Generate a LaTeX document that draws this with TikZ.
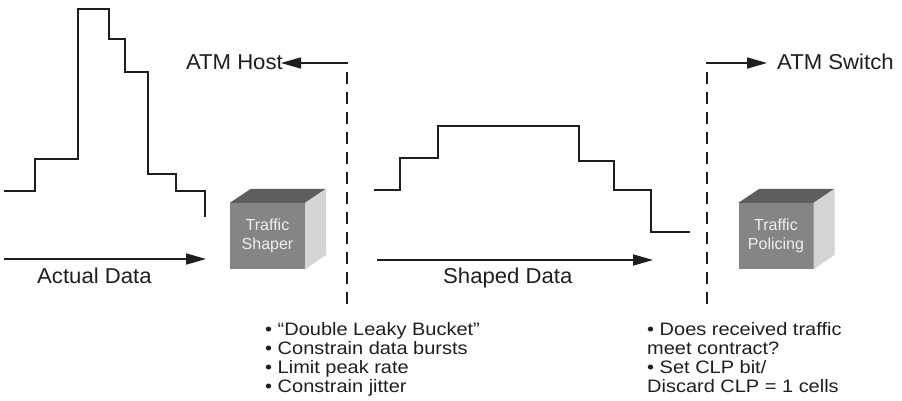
\documentclass[tikz,border=0pt]{standalone}
\usepackage{fontspec}
\setmainfont{Liberation Sans}
\newfontfamily\bulletfont[FakeStretch=1.11]{Liberation Sans}
\newfontfamily\labelfont[FakeStretch=1.03]{Liberation Sans}
\usetikzlibrary{arrows.meta}
\definecolor{ink}{HTML}{1E1E1E}
\definecolor{cubefront}{HTML}{858585}
\definecolor{cubetop}{HTML}{5E5E5E}
\definecolor{cubeside}{HTML}{D4D4D4}
\definecolor{cubetext}{HTML}{EEEEEE}
\begin{document}
\begin{tikzpicture}[x=1pt,y=-1pt,
  stair/.style={line width=1.9pt, draw=ink, line join=miter},
  arr/.style={line width=1.7pt, draw=ink, -{Triangle[length=20pt,width=11pt]}},
  dashline/.style={line width=1.9pt, draw=ink, dash pattern=on 12pt off 8pt},
  biglabel/.style={font=\labelfont\fontsize{21.5}{24}\selectfont, text=ink, inner sep=0pt},
  bullettext/.style={font=\bulletfont\fontsize{18}{19.3}\selectfont, text=ink, inner sep=0pt, anchor=base west},
  cubeface/.style={fill=cubefront, minimum width=75pt, minimum height=66pt, inner sep=0pt,
     align=center, text=cubetext, font=\fontsize{16}{18.5}\selectfont},
]
\useasboundingbox (0,0) rectangle (902,401);

% Actual data staircase
\draw[stair] (4,191) -- (35,191) -- (35,159) -- (78,159) -- (78,9) -- (109,9) -- (109,39)
  -- (125,39) -- (125,72) -- (148,72) -- (148,174) -- (176,174) -- (176,191) -- (205,191) -- (205,217);

% Shaped data staircase
\draw[stair] (374,190) -- (400,190) -- (400,158) -- (438,158) -- (438,126) -- (579,126)
  -- (579,161) -- (614,161) -- (614,190) -- (651,190) -- (651,232) -- (690,232);

% Data arrows
\coordinate (a0) at (4,259);
\coordinate (a1) at (206,259);
\draw[arr] (a0) -- (a1);
\node[biglabel, anchor=base west] (actual) at (37,283) {Actual Data};

\coordinate (s0) at (377,260);
\coordinate (s1) at (653,260);
\draw[arr] (s0) -- (s1);
\node[biglabel, anchor=base west] (shaped) at (443,283) {Shaped Data};

% ATM Host boundary
\coordinate (htop) at (348,63);
\coordinate (hdash) at (347,72);
\coordinate (hbot) at (347,307);
\node[biglabel, anchor=base east] (host) at (283,70) {ATM Host};
\draw[arr, shorten >=-2pt] (htop) -- (host.east |- htop);
\draw[dashline] (hdash) -- (hbot);

% ATM Switch boundary
\coordinate (wtop) at (706,63);
\coordinate (wdash) at (707,72);
\coordinate (wbot) at (707,305);
\node[biglabel, anchor=base west] (switch) at (777,70) {ATM Switch};
\draw[arr, shorten >=10pt] (wtop) -- (switch.west |- wtop);
\draw[dashline] (wdash) -- (wbot);

% Traffic Shaper cube
\node[cubeface] (shaper) at (267.5,236) {Traffic\\Shaper};
\fill[cubetop] (shaper.north west) -- ++(21,-14) -- ++(75,0) -- (shaper.north east) -- cycle;
\fill[cubeside] (shaper.north east) -- ++(21,-14) -- ++(0,66) -- (shaper.south east) -- cycle;

% Traffic Policing cube
\node[cubeface] (policing) at (776,236) {Traffic\\Policing};
\fill[cubetop] (policing.north west) -- ++(21,-14) -- ++(75,0) -- (policing.north east) -- cycle;
\fill[cubeside] (policing.north east) -- ++(21,-14) -- ++(0,66) -- (policing.south east) -- cycle;

% Shaper bullet list
\node[bullettext] (l1) at (265,335) {• “Double Leaky Bucket”};
\node[bullettext] (l2) at (265,354.3) {• Constrain data bursts};
\node[bullettext] (l3) at (265,373.6) {• Limit peak rate};
\node[bullettext] (l4) at (265,392.9) {• Constrain jitter};

% Policing bullet list
\node[bullettext] (r1) at (647,335) {• Does received traffic};
\node[bullettext] (r2) at (647,354.3) {meet contract?};
\node[bullettext] (r3) at (647,373.6) {• Set CLP bit/};
\node[bullettext] (r4) at (647,392.9) {Discard CLP = 1 cells};
\end{tikzpicture}
\end{document}
